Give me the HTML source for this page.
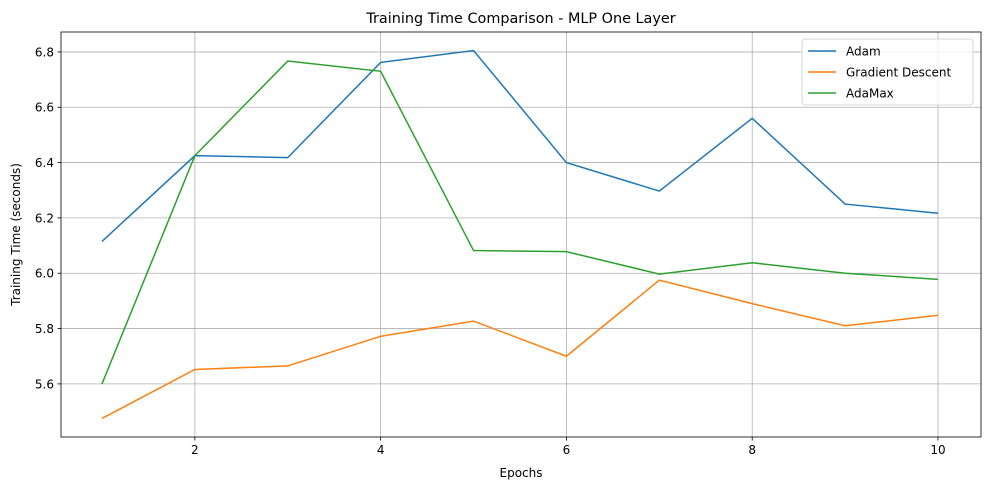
<!DOCTYPE html>
<html><head><meta charset="utf-8">
<style>
body{margin:0;background:#fff;font-family:"Liberation Sans","DejaVu Sans",sans-serif;}
svg text{font-family:"DejaVu Sans","Liberation Sans",sans-serif;}
</style></head>
<body>
<svg id="chart" width="989" height="490" xmlns="http://www.w3.org/2000/svg"></svg>
<script>
const epochs=[1,2,3,4,5,6,7,8,9,10];
const adam=[6.115,6.425,6.418,6.762,6.805,6.40,6.297,6.56,6.25,6.217];
const gd=[5.475,5.652,5.665,5.772,5.827,5.70,5.975,5.89,5.81,5.848];
const adamax=[5.60,6.425,6.767,6.73,6.082,6.078,5.997,6.038,6.0,5.978];
const xTicks=[2,4,6,8,10];
const yTicks=[5.6,5.8,6.0,6.2,6.4,6.6,6.8];
const seriesNames=["Adam","Gradient Descent","AdaMax"];
const colors=["#1f77b4","#ff7f0e","#2ca02c"];

const L=61,R=981,T=32,B=437;
const xMin=0.559,xMax=10.463,yMin=5.408,yMax=6.872;
const sx=v=>L+(v-xMin)/(xMax-xMin)*(R-L);
const sy=v=>B-(v-yMin)/(yMax-yMin)*(B-T);
const svg=document.getElementById('chart');
const NS="http://www.w3.org/2000/svg";
function el(tag,attrs,parent){const e=document.createElementNS(NS,tag);for(const k in attrs)e.setAttribute(k,attrs[k]);(parent||svg).appendChild(e);return e;}

xTicks.forEach(t=>{
  const g=el('line',{x1:sx(t),x2:sx(t),y1:T,y2:B,stroke:'#b0b0b0','stroke-width':0.8});
  
  
  el('line',{x1:sx(t),x2:sx(t),y1:B,y2:B+3.5,stroke:'#000','stroke-width':0.8});
  const tx=el('text',{x:sx(t),y:B+17,'text-anchor':'middle','font-size':12,fill:'#000'});
  tx.textContent=t;
  
  
});
yTicks.forEach(t=>{
  const g=el('line',{x1:L,x2:R,y1:sy(t),y2:sy(t),stroke:'#b0b0b0','stroke-width':0.8});
  
  
  el('line',{x1:L-3.5,x2:L,y1:sy(t),y2:sy(t),stroke:'#000','stroke-width':0.8});
  const tx=el('text',{x:L-7,y:sy(t)+4.5,'text-anchor':'end','font-size':12,fill:'#000'});
  tx.textContent=t.toFixed(1);
  
  
});

[adam,gd,adamax].forEach((s,i)=>{
  const p=el('polyline',{points:s.map((v,j)=>sx(epochs[j])+','+sy(v)).join(' '),fill:'none',stroke:colors[i],'stroke-width':1.5});
  
  
});

const frame=el('rect',{x:L,y:T,width:R-L,height:B-T,fill:'none',stroke:'#000','stroke-width':0.8});



const title=el('text',{x:(L+R)/2,y:23,'text-anchor':'middle','font-size':14.4,fill:'#000'});
title.textContent='Training Time Comparison - MLP One Layer';


const xl=el('text',{x:(L+R)/2,y:477,'text-anchor':'middle','font-size':12,fill:'#000'});
xl.textContent='Epochs';


const yl=el('text',{x:0,y:0,'text-anchor':'middle','font-size':12,fill:'#000',transform:'translate(20,'+((T+B)/2)+') rotate(-90)'});
yl.textContent='Training Time (seconds)';



const lg=el('g',{});


el('rect',{x:802,y:39,width:171,height:66,rx:3,fill:'#fff','fill-opacity':0.8,stroke:'#ccc','stroke-width':0.8},lg);
seriesNames.forEach((n,i)=>{
  const y=51+i*21;
  el('line',{x1:808,x2:836,y1:y,y2:y,stroke:colors[i],'stroke-width':1.5},lg);
  const t=el('text',{x:846,y:y+4.5,'font-size':12,fill:'#000'},lg);
  t.textContent=n;
  
  
});
</script>
</body></html>
